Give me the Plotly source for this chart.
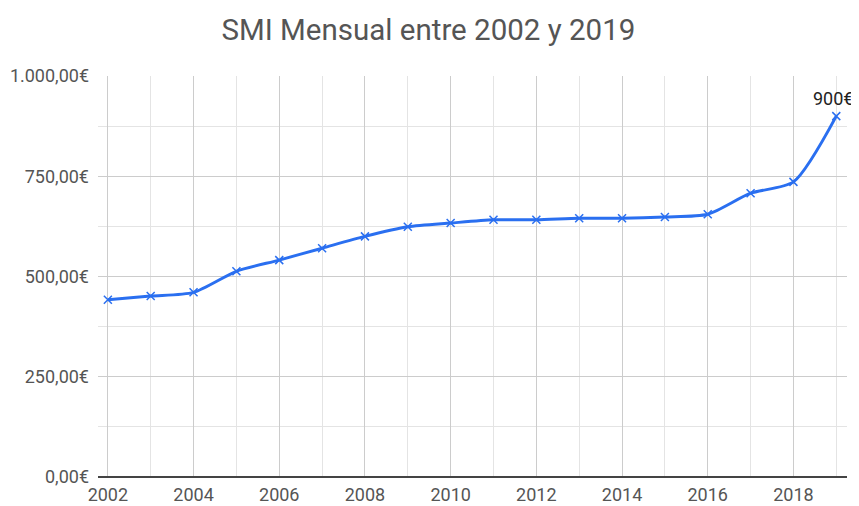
import plotly.graph_objects as go

years = list(range(2002, 2020))
smi = [442.20, 451.20, 460.50, 513.00, 540.90, 570.60, 600.00, 624.00, 633.30,
       641.40, 641.40, 645.30, 645.30, 648.60, 655.20, 707.70, 735.90, 900.00]
last_label = "900€"

blue = "#2a6ff0"

fig = go.Figure()
fig.add_trace(go.Scatter(
    x=years, y=smi, mode="lines+markers",
    line=dict(color=blue, width=3, shape="spline", smoothing=0.7),
    marker=dict(symbol="x-thin", size=8, line=dict(color=blue, width=1.5)),
    cliponaxis=False, showlegend=False,
))

# data label on the last point, nudged left so it stays inside the page
fig.add_annotation(x=years[-1], y=smi[-1], text=last_label, showarrow=False,
                   xanchor="center", yanchor="bottom", xshift=-3, yshift=5,
                   font=dict(family="Roboto", size=18, color="#222222"))

# the page body has an 8px margin, so the figure is sized to fit the window
fig.update_layout(
    width=851, height=498,
    margin=dict(l=90, r=12, t=68, b=29),
    paper_bgcolor="white", plot_bgcolor="white",
    separators=",.",
    font=dict(family="Roboto", size=18, color="#555555"),
    title=dict(text="SMI Mensual entre 2002 y 2019", x=0.494, xanchor="center",
               y=0.956, yanchor="middle",
               font=dict(family="Roboto", size=29.5, color="#555555")),
    xaxis=dict(range=[2001.77, 2019.25], tick0=2002, dtick=2, tickformat="d",
               showgrid=True, gridcolor="#cccccc", gridwidth=1,
               minor=dict(dtick=1, tick0=2002, showgrid=True, gridcolor="#e4e4e4"),
               zeroline=False, showline=False, ticks="", ticklabelstandoff=5,
               automargin=False),
    yaxis=dict(range=[0, 1000], tick0=0, dtick=250, tickformat=",.2f", ticksuffix="€",
               showgrid=True, gridcolor="#cccccc", gridwidth=1,
               minor=dict(dtick=125, showgrid=True, gridcolor="#e4e4e4"),
               zeroline=True, zerolinecolor="#444444", zerolinewidth=2,
               showline=False, ticks="", ticklabelstandoff=8, automargin=False),
)

fig.write_html("out.html")
